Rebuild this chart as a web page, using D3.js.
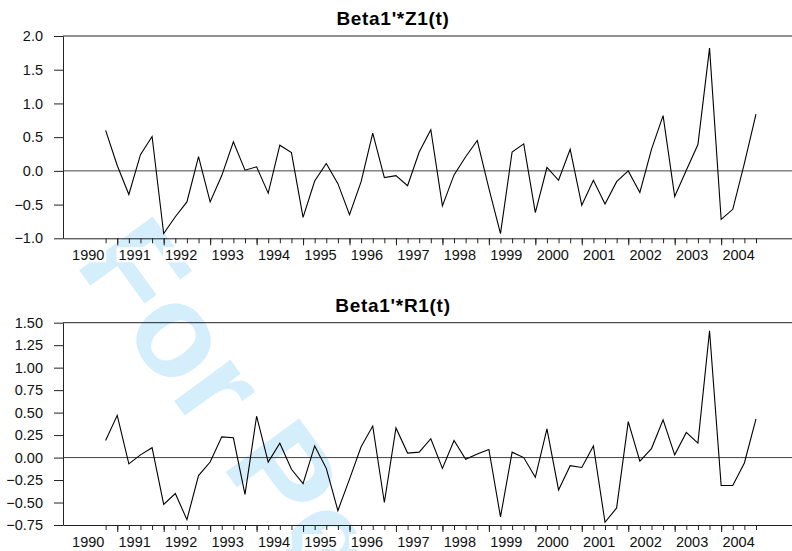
<!DOCTYPE html>
<html>
<head>
<meta charset="utf-8">
<script src="https://cdn.jsdelivr.net/npm/d3@7"></script>
<style>
  body { margin: 0; background: #fff; }
  svg { display: block; font-family: "Liberation Sans", Arial, sans-serif; }
</style>
</head>
<body>
<div id="chart"></div>
<script>
var svgWidth = 792;
var svgHeight = 551;

// quarterly data, 1990Q4 .. 2004Q4
var startQuarter = 3;   // quarters after 1990Q1
var yearLabels = ["1990","1991","1992","1993","1994","1995","1996","1997","1998","1999","2000","2001","2002","2003","2004"];

var z1Values = [0.60, 0.08, -0.35, 0.24, 0.51, -0.93, -0.68, -0.46, 0.21, -0.46,
  -0.07, 0.43, 0.01, 0.06, -0.33, 0.38, 0.27, -0.69, -0.15, 0.11,
  -0.19, -0.65, -0.16, 0.56, -0.10, -0.07, -0.22, 0.28, 0.61, -0.52,
  -0.06, 0.21, 0.45, -0.26, -0.93, 0.28, 0.40, -0.62, 0.05, -0.14,
  0.32, -0.51, -0.14, -0.49, -0.16, 0.00, -0.32, 0.32, 0.82, -0.38,
  0.01, 0.39, 1.82, -0.72, -0.57, 0.11, 0.84];

var r1Values = [0.19, 0.47, -0.07, 0.03, 0.11, -0.52, -0.40, -0.69, -0.20, -0.05,
  0.23, 0.22, -0.41, 0.46, -0.05, 0.16, -0.13, -0.29, 0.13, -0.12,
  -0.59, -0.24, 0.12, 0.35, -0.50, 0.33, 0.05, 0.06, 0.21, -0.12,
  0.19, -0.02, 0.04, 0.09, -0.66, 0.06, 0.00, -0.22, 0.32, -0.36,
  -0.09, -0.11, 0.13, -0.72, -0.56, 0.40, -0.04, 0.10, 0.42, 0.03,
  0.28, 0.16, 1.41, -0.31, -0.31, -0.06, 0.43];

var z1Ticks = [-1.0, -0.5, 0.0, 0.5, 1.0, 1.5, 2.0];
var r1Ticks = [-0.75, -0.50, -0.25, 0.00, 0.25, 0.50, 0.75, 1.00, 1.25, 1.50];

var svg = d3.select("#chart")
  .append("svg")
  .attr("width", svgWidth)
  .attr("height", svgHeight);

// watermark behind everything
svg.append("text")
  .attr("transform", "translate(74,263) rotate(54)")
  .attr("font-size", "132px")
  .attr("font-weight", "bold")
  .attr("fill", "#d4eefc")
  .text("For Peer");

var xScale = d3.scaleLinear()
  .domain([-0.67, 62.1])
  .range([63, 792]);

var quarterTicks = d3.range(startQuarter, startQuarter + z1Values.length);

function drawPanel(top, bottom, title, values, ticks, fmt) {
  var g = svg.append("g");

  var yScale = d3.scaleLinear()
    .domain([ticks[0], ticks[ticks.length - 1]])
    .range([bottom, top]);

  // title
  g.append("text")
    .attr("x", 393)
    .attr("y", top - 11)
    .attr("text-anchor", "middle")
    .attr("font-size", "19px")
    .attr("font-weight", "bold")
    .attr("letter-spacing", "0.7px")
    .text(title);

  // top frame line
  g.append("line")
    .attr("x1", 63).attr("x2", 792)
    .attr("y1", top).attr("y2", top)
    .attr("stroke", "#222");

  // zero line
  g.append("line")
    .attr("x1", 63).attr("x2", 792)
    .attr("y1", yScale(0)).attr("y2", yScale(0))
    .attr("stroke", "#444");

  // left axis
  var leftAxis = d3.axisLeft(yScale)
    .tickValues(ticks)
    .tickSize(9)
    .tickSizeOuter(0)
    .tickPadding(11)
    .tickFormat(d3.format(fmt));

  var ly = g.append("g")
    .attr("transform", "translate(63,0)")
    .call(leftAxis);
  ly.selectAll("text").attr("font-size", "14.5px").attr("fill", "#111").attr("font-family", null);
  ly.selectAll("path, line").attr("stroke", "#222");

  // bottom axis: minor ticks every quarter, longer ones at Q1
  var minorAxis = d3.axisBottom(xScale)
    .tickValues(quarterTicks)
    .tickSize(5)
    .tickSizeOuter(0)
    .tickFormat("");
  var mx = g.append("g")
    .attr("transform", `translate(0, ${bottom})`)
    .call(minorAxis);
  mx.selectAll("path, line").attr("stroke", "#222");

  var majorAxis = d3.axisBottom(xScale)
    .tickValues(quarterTicks.filter(q => q % 4 === 0))
    .tickSize(7)
    .tickSizeOuter(0)
    .tickFormat("");
  var jx = g.append("g")
    .attr("transform", `translate(0, ${bottom})`)
    .call(majorAxis);
  jx.select(".domain").remove();
  jx.selectAll("line").attr("stroke", "#222");

  // year labels, centred on each year's quarters, with white boxes
  var labels = g.selectAll(".yearLabel")
    .data(yearLabels)
    .enter()
    .append("g")
    .attr("transform", (d, i) => `translate(${xScale(i * 4 + 1.5)}, ${bottom + 21.5})`);

  labels.append("rect")
    .attr("x", -18).attr("y", -12.5)
    .attr("width", 36).attr("height", 15)
    .attr("fill", "#fff");

  labels.append("text")
    .attr("text-anchor", "middle")
    .attr("font-size", "14.5px")
    .attr("fill", "#111")
    .text(d => d);

  // series line
  var line = d3.line()
    .x((d, i) => xScale(startQuarter + i))
    .y(d => yScale(d));

  g.append("path")
    .datum(values)
    .attr("fill", "none")
    .attr("stroke", "#000")
    .attr("stroke-width", 1.1)
    .attr("d", line);
}

drawPanel(36, 238.3, "Beta1'*Z1(t)", z1Values, z1Ticks, ".1f");
drawPanel(322.7, 525, "Beta1'*R1(t)", r1Values, r1Ticks, ".2f");
</script>
</body>
</html>
